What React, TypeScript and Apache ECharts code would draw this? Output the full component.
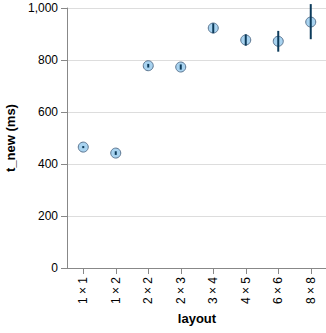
import React, { useEffect, useRef } from "react";
import * as echarts from "echarts";

const categories = ["1 × 1", "1 × 2", "2 × 2", "2 × 3", "3 × 4", "4 × 5", "6 × 6", "8 × 8"];
const meanValues = [465, 442, 778, 773, 923, 877, 872, 946];
const lowValues = [461, 435, 771, 763, 903, 855, 832, 880];
const highValues = [469, 449, 785, 783, 941, 899, 912, 1015];
const yTicks = { min: 0, max: 1000, interval: 200 };

export default function App() {
  const ref = useRef<HTMLDivElement>(null);
  useEffect(() => {
    if (!ref.current) return;
    const chart = echarts.init(ref.current, undefined, { renderer: "svg" });
    const font = "Liberation Sans, Arial, Helvetica, sans-serif";
    chart.setOption({
      animation: false,
      grid: { left: 67, top: 8, width: 260, height: 260, containLabel: false, outerBoundsMode: "none" },
      xAxis: {
        type: "category",
        data: categories,
        boundaryGap: true,
        name: "layout",
        nameLocation: "middle",
        nameGap: 44,
        nameTextStyle: { fontFamily: font, fontSize: 13, fontWeight: "bold", color: "#000" },
        axisLine: { show: true, lineStyle: { color: "#888", width: 1 } },
        axisTick: { show: true, alignWithLabel: true, length: 6, lineStyle: { color: "#888" } },
        axisLabel: { rotate: 90, fontFamily: font, fontSize: 12, color: "#000", margin: 9 },
        splitLine: { show: false },
      },
      yAxis: {
        type: "value",
        min: yTicks.min,
        max: yTicks.max,
        interval: yTicks.interval,
        name: "t_new (ms)",
        nameLocation: "middle",
        nameGap: 47,
        nameTextStyle: { fontFamily: font, fontSize: 13, fontWeight: "bold", color: "#000" },
        axisLine: { show: true, lineStyle: { color: "#888", width: 1 } },
        axisTick: { show: true, length: 6, lineStyle: { color: "#888" } },
        axisLabel: {
          fontFamily: font,
          fontSize: 12,
          color: "#000",
          margin: 9,
          formatter: (v: number) => v.toLocaleString("en-US"),
        },
        splitLine: { show: true, lineStyle: { color: "#ddd", width: 1 } },
      },
      series: [
        {
          type: "scatter",
          data: meanValues.map((v, i) => [i, v]),
          symbol: "circle",
          symbolSize: 10,
          itemStyle: { color: "#a8d3f0", borderColor: "#5b7590", borderWidth: 1, opacity: 1 },
          z: 2,
        },
        {
          type: "custom",
          z: 3,
          data: categories.map((_, i) => [i, lowValues[i], highValues[i]]),
          renderItem: (params: any, api: any) => {
            const i = api.value(0);
            const p1 = api.coord([i, api.value(1)]);
            const p2 = api.coord([i, api.value(2)]);
            return {
              type: "line",
              shape: { x1: p1[0], y1: p1[1], x2: p2[0], y2: p2[1] },
              style: { stroke: "#0c3b5b", lineWidth: 2 },
            };
          },
        },
      ],
    });
    return () => chart.dispose();
  }, []);
  return <div ref={ref} style={{ width: 326, height: 333, position: "absolute", left: 0, top: 0 }} />;
}
